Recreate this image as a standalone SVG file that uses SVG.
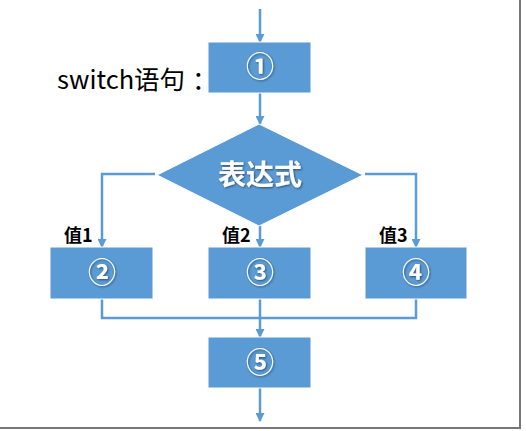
<svg xmlns="http://www.w3.org/2000/svg" width="526" height="431" viewBox="0 0 526 431">
<style>
.box{fill:#5B9BD5;stroke:#fff;stroke-width:1}
.ln{fill:none;stroke:#5B9BD5;stroke-width:2.5}
.num{font-family:"Noto Sans CJK SC","DejaVu Sans",sans-serif;font-size:28px;font-weight:bold;fill:#fff;text-anchor:middle}
.lbl{font-family:"Noto Sans CJK SC",sans-serif;font-size:18px;font-weight:bold;fill:#000}
</style>
<defs>
<marker id="ah" markerWidth="9" markerHeight="9" refX="8" refY="4.5" orient="auto" markerUnits="userSpaceOnUse">
<path d="M0,0 L9,4.5 L0,9 Z" fill="#5B9BD5"/>
</marker>
<filter id="sh" x="-20%" y="-20%" width="140%" height="140%">
<feDropShadow dx="1" dy="1" stdDeviation="0.8" flood-color="#000" flood-opacity="0.5"/>
</filter>
</defs>
<rect width="526" height="431" fill="#fff"/>
<g id="frame">
<line x1="520" y1="0" x2="520" y2="428" stroke="#777" stroke-width="2"/>
<line x1="0" y1="428" x2="521" y2="428" stroke="#777" stroke-width="2"/>
</g>
<g id="connectors">
<line class="ln" x1="260" y1="9" x2="260" y2="42" marker-end="url(#ah)"/>
<line class="ln" x1="260" y1="93" x2="260" y2="124" marker-end="url(#ah)"/>
<polyline class="ln" points="155,174 102,174 102,247" marker-end="url(#ah)"/>
<line class="ln" x1="260" y1="226" x2="260" y2="247" marker-end="url(#ah)"/>
<polyline class="ln" points="365,174 416,174 416,247" marker-end="url(#ah)"/>
<polyline class="ln" points="102,299 102,318 416,318 416,299"/>
<line class="ln" x1="260" y1="299" x2="260" y2="337" marker-end="url(#ah)"/>
<line class="ln" x1="260" y1="388" x2="260" y2="421" marker-end="url(#ah)"/>
</g>
<text id="title" x="57" y="89" font-family="'Noto Sans CJK SC',sans-serif" font-size="25.5" fill="#000">switch语句<tspan x="192">：</tspan></text>
<g id="n1"><rect class="box" x="208" y="42" width="103" height="51"/><text class="num" x="260" y="77" filter="url(#sh)">①</text></g>
<g id="cond"><polygon points="259,124 363,175 259,226 157,175" fill="#5B9BD5" stroke="#fff" stroke-width="1"/><text class="num" x="260" y="185" font-size="25" filter="url(#sh)">表达式</text></g>
<g id="n2"><rect class="box" x="50" y="247" width="103" height="52"/><text class="num" x="102" y="283" filter="url(#sh)">②</text><text class="lbl" x="64" y="242">值1</text></g>
<g id="n3"><rect class="box" x="208" y="247" width="103" height="52"/><text class="num" x="260" y="283" filter="url(#sh)">③</text><text class="lbl" x="222" y="242">值2</text></g>
<g id="n4"><rect class="box" x="365" y="247" width="102" height="52"/><text class="num" x="416" y="283" filter="url(#sh)">④</text><text class="lbl" x="379" y="242">值3</text></g>
<g id="n5"><rect class="box" x="208" y="337" width="103" height="51"/><text class="num" x="260" y="373" filter="url(#sh)">⑤</text></g>
</svg>
